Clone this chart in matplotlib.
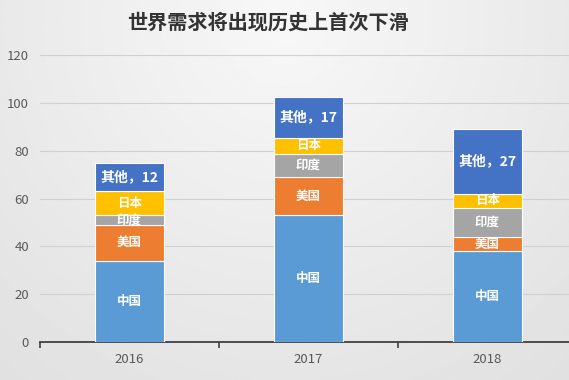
import matplotlib
matplotlib.use("Agg")
import matplotlib.pyplot as plt
import numpy as np

plt.rcParams['font.family'] = ['Noto Sans CJK SC', 'DejaVu Sans']

years = ['2016', '2017', '2018']
series_names = ['中国', '美国', '印度', '日本', '其他']
china = [34, 53, 38]
usa = [15, 16, 6]
india = [4, 9.5, 12]
japan = [10, 7, 6]
other = [12, 17, 27]
title = '世界需求将出现历史上首次下滑'
yticks = [0, 20, 40, 60, 80, 100, 120]

colors = ['#5B9BD5', '#ED7D31', '#A5A5A5', '#FFC000', '#4472C4']
values = [china, usa, india, japan, other]

W, H = 569, 380
fig = plt.figure(figsize=(W / 100, H / 100), dpi=100)

# background gradient
bg = fig.add_axes([0, 0, 1, 1])
yy, xx = np.mgrid[0:1:200j, 0:1:300j]
r = np.sqrt(((xx - 0.5) / 0.8) ** 2 + ((yy - 0.05) / 1.2) ** 2)
img = 0.97 - 0.09 * np.clip(r, 0, 1)
bg.imshow(img, cmap='gray', vmin=0, vmax=1, extent=[0, 1, 0, 1], aspect='auto', origin='upper')
bg.axis('off')

left = 40 / W
bottom = (H - 342) / H
top = (H - 55) / H
width = 537 / W
ax = fig.add_axes([left, bottom, width, top - bottom])
ax.set_facecolor('none')

x = np.arange(len(years))
bottoms = np.zeros(len(years))
for name, vals, c in zip(series_names, values, colors):
    vals = np.array(vals, dtype=float)
    ax.bar(x, vals, bottom=bottoms, width=0.39, color=c, edgecolor='white', linewidth=0.8, zorder=3)
    for xi, v, b in zip(x, vals, bottoms):
        label = f'{name}，{int(v)}' if name == '其他' else name
        ax.text(xi, b + v / 2, label, ha='center', va='center', color='white',
                fontsize=10 if name == '其他' else 9, fontweight='bold', zorder=4)
    bottoms += vals

ax.set_xlim(-0.5, len(years) - 0.5)
ax.set_ylim(0, 120)
ax.set_yticks(yticks)
ax.set_yticklabels([str(t) for t in yticks], color='#595959', fontsize=9.5)
ax.tick_params(axis='y', length=0, pad=8)
ax.yaxis.grid(True, color='#d0d0d0', linewidth=0.8, zorder=0)
ax.set_axisbelow(True)

ax.set_xticks(x)
ax.set_xticklabels(years, color='#595959', fontsize=9.5)
ax.tick_params(axis='x', length=0, pad=8)
ax.set_xticks(np.arange(-0.5, len(years), 1.0), minor=True)
ax.tick_params(axis='x', which='minor', length=4, width=1.2, color='#404040', direction='out')

for s in ['top', 'right', 'left']:
    ax.spines[s].set_visible(False)
ax.spines['bottom'].set_color('#404040')
ax.spines['bottom'].set_linewidth(1.3)

fig.text(268 / W, 1 - 22 / H, title, ha='center', va='center', fontsize=14.5,
         fontweight='bold', color='#333333')

fig.savefig('out.png', dpi=100)
